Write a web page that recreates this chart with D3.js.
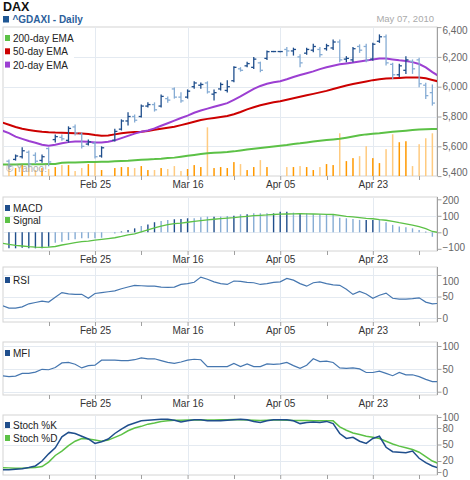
<!DOCTYPE html>
<html><head><meta charset="utf-8">
<script src="https://cdn.jsdelivr.net/npm/d3@7"></script>
<style>
body{margin:0;background:#fff;}
svg{display:block;font-family:Arial,"Liberation Sans",Helvetica,sans-serif;}
</style></head><body>
<svg id="c" width="470" height="480"></svg>
<script>
// ---- categories / ticks (trading-day index) ----
const majorTicks = [13, 27, 41, 55];
const majorLabels = ["Feb 25", "Mar 16", "Apr 05", "Apr 23"];
const minorTicks = [6, 20, 34, 48, 62];
const priceTicks = [5400, 5600, 5800, 6000, 6200, 6400];
const macdTicks = [-100, 0, 100, 200];
const rsiTicks = [0, 50, 100];
const mfiTicks = [0, 50, 100];
const stochTicks = [0, 20, 50, 80, 100];

// ---- OHLC, bars at index 0..64 (null = no bar) ----
const open  = [5500,5512,5530,5560,5540,5505,5585,5645,5660,5640,5730,5680,5615,5620,5535,null,5640,5715,5770,5800,5800,5870,5880,5870,5920,5985,5930,5930,6000,6010,6025,5950,5985,5975,6040,6120,6140,6130,6160,6190,6236,6236,6250,6240,6200,6225,6245,6250,6255,6260,6300,6185,6180,6270,6270,6185,6305,6335,6150,6080,6110,6170,6180,6010,5960];
const high  = [5508,5541,5589,5568,5555,5541,5589,5676,5676,5730,5743,5690,5642,5629,5596,null,5714,5777,5824,5810,5877,5891,5891,5944,5931,5991,5958,5978,6032,6025,6032,5978,6025,6040,6134,6127,6164,6195,6164,6239,6236,6236,6262,6258,6213,6258,6284,6262,6284,6313,6313,6201,6262,6280,6284,6291,6347,6347,6157,6150,6201,6179,6190,6023,6011];
const low   = [5454,5508,5522,5461,5488,5494,5470,5629,5642,5629,5676,5589,5609,5522,5528,null,5636,5710,5743,5763,5797,5864,5837,5864,5897,5924,5897,5924,5991,5991,5958,5911,5978,5965,6034,6105,6134,6123,6101,6184,6236,6236,6208,6213,6134,6218,6235,6201,6246,6250,6168,6168,6168,6231,6168,6179,6298,6146,6056,6067,6090,6090,6000,5922,5877];
const close = [5465,5535,5570,5480,5500,5530,5495,5665,5650,5720,5690,5600,5630,5530,5590,null,5700,5770,5800,5775,5870,5880,5845,5935,5910,5930,5905,5970,6025,6015,5965,5960,6015,6000,6130,6110,6155,6185,6110,6235,6236,6236,6240,6250,6160,6250,6270,6215,6275,6300,6180,6190,6255,6245,6180,6285,6335,6160,6080,6140,6180,6120,6020,5940,5890];
const volume = [44,32,44,32,24,32,28,36,44,44,20,32,48,52,24,0,32,36,36,32,40,24,24,32,28,40,20,28,44,36,196,32,36,32,56,48,24,36,64,36,0,0,36,36,40,36,24,36,48,44,172,60,72,80,120,72,52,108,168,136,140,40,128,152,172];

// ---- lines, values at index -1..65 ----
const ema200 = [5478,5478,5478,5479,5479,5480,5480,5481,5481,5490,5491,5492,5493,5494,5495,5496,5497,5499,5501,5503,5506,5509,5512,5514,5517,5521,5524,5530,5536,5542,5548,5553,5556,5559,5561,5566,5572,5578,5584,5589,5594,5599,5604,5609,5615,5620,5626,5632,5638,5642,5646,5650,5658,5666,5674,5680,5684,5688,5693,5697,5701,5705,5709,5712,5715,5716,5717];
const ema50 = [5760,5745,5730,5718,5710,5703,5697,5694,5692,5691,5690,5688,5686,5683,5676,5671,5673,5680,5688,5693,5696,5698,5703,5711,5718,5725,5731,5742,5753,5765,5776,5784,5790,5797,5804,5815,5830,5848,5862,5875,5886,5895,5902,5912,5922,5932,5942,5952,5962,5972,5985,5996,6008,6018,6027,6035,6044,6050,6055,6057,6059,6061,6062,6061,6056,6045,6034];
const ema20 = [5705,5688,5665,5650,5636,5624,5610,5603,5610,5620,5628,5632,5632,5630,5626,5625,5630,5640,5655,5670,5685,5697,5706,5720,5738,5755,5772,5790,5806,5825,5840,5853,5865,5877,5890,5912,5935,5960,5985,6005,6020,6030,6037,6050,6065,6078,6090,6103,6118,6130,6141,6150,6156,6162,6169,6176,6183,6189,6190,6183,6177,6172,6165,6152,6130,6098,6070];

// MACD histogram index 0..64, signal index -1..65
const macd = [-97,-97,-93,-97,-97,-97,-87,-63,-57,-47,-42,-36,-36,-36,-33,null,-8,5,14,24,38,48,61,68,75,79,81,85,85,91,95,95,95,99,101,109,109,115,115,115,115,125,125,119,115,115,109,109,109,105,88,85,81,75,75,75,75,61,45,35,31,24,14,4,-27];
const macdShade = ["d","d","d","d","d","d","d","l","l","l","l","l","l","l","l","-","l","d","d","d","l","d","d","l","l","d","d","d","l","l","l","d","l","l","d","l","d","l","l","l","d","d","d","l","d","l","l","l","l","l","l","l","l","l","d","d","l","l","l","l","l","l","l","d","l"];
const signal = [-66,-73,-79,-83,-87,-90,-91,-90,-86,-77,-70,-63,-57,-53,-48,-43,-38,-33,-25,-16,-9,3,15,27,38,47,52,56,61,66,71,75,79,83,86,89,93,97,101,103,105,108,110,111,112,113,112,111,110,109,108,103,97,93,89,85,82,77,73,66,58,51,43,35,22,5,-2];

const rsi = [29,23,23,26,33,36,39,37,48,59,56,55,55,46,57,59,61,63,68,72,76,75,74,74,72,71,72,78,80,83,95,90,84,80,78,86,85,83,82,78,80,83,84,92,88,80,74,82,84,80,77,76,67,55,62,56,46,53,58,46,44,44,45,47,37,33,34];
const mfi = [35,33,34,40,40,43,49,48,53,63,64,60,52,57,58,69,69,69,68,68,70,74,72,72,68,64,62,65,69,71,70,55,55,55,55,62,55,61,55,55,61,60,61,64,57,51,58,72,66,67,64,52,51,52,50,42,42,45,40,35,42,37,37,33,27,22,22];
const stochK = [4,4,5,6,8,11,20,33,44,64,72,70,65,60,52,55,60,70,78,85,89,93,94,95,96,96,94,91,93,95,95,93,93,93,94,95,96,95,92,90,93,95,95,95,93,88,90,91,90,92,88,70,61,63,56,52,61,65,45,37,36,35,38,25,17,11,7];
const stochD = [8,7.5,7,6.8,7.5,8,10,18,30,38,48,56,61,60,58,56,58,63,68,75,80,83,87,89,92,93,94,94,94.5,94.5,94.5,94.5,94.5,95,95,95.5,95,94.5,94,93.5,94,94.5,94.5,94,93.5,93.5,93.5,93,93,93,93,82,76,71,68,65,63,61,56,51,47,44,41,36,28,20,15];

// ---- styles ----
const C = {
  dark:"#1f4e8c", light:"#86acd4", red:"#cc0000", purple:"#9c3fd2", green:"#5cc146",
  volDark:"#ff9900", volLight:"#ffcb80", grid:"#e4eaf1", frame:"#d4d4d4", axis:"#a0a0a0",
  axisText:"#666", xText:"#333"
};

const svg = d3.select("#c");
const PL = 3, PR = 437;
const x = d3.scaleLinear().domain([-0.9, 64.7]).range([PL, PR]);
const barIdx = d3.range(0, 65);
const lineIdx = d3.range(-1, 66);

const panels = {
  main:  {top:27,  bottom:176},
  macd:  {top:197, bottom:251},
  rsi:   {top:267, bottom:322},
  mfi:   {top:342, bottom:395},
  stoch: {top:415, bottom:475}
};

const yPrice = d3.scaleLinear().domain([5400, 6400]).range([176.1, 27.1]);
const yVol   = d3.scaleLinear().domain([0, 600]).range([176, 27]);
const yMacd  = d3.scaleLinear().domain([-100, 200]).range([248.8, 199.3]);
const yRsi   = d3.scaleLinear().domain([0, 100]).range([318, 275]);
const yMfi   = d3.scaleLinear().domain([0, 100]).range([391.7, 346]);
const yStoch = d3.scaleLinear().domain([0, 100]).range([472, 417]);

const defs = svg.append("defs");
function clip(name, p){
  defs.append("clipPath").attr("id","clip-"+name)
    .append("rect").attr("x",PL).attr("y",p.top).attr("width",PR-PL).attr("height",p.bottom-p.top);
  return "url(#clip-"+name+")";
}

function drawPanel(name, yScale, ticks, fmt, nudge, gridVals, showXLabels){
  const p = panels[name];
  const g = svg.append("g");
  g.append("rect").attr("x",PL).attr("y",p.top).attr("width",PR-PL).attr("height",p.bottom-p.top)
    .attr("fill","#fff").attr("stroke",C.frame).attr("stroke-width",1);
  g.selectAll(".hg").data(gridVals).join("line")
    .attr("x1",PL).attr("x2",PR).attr("y1",d=>Math.round(yScale(d))+0.5).attr("y2",d=>Math.round(yScale(d))+0.5)
    .attr("stroke",C.grid).attr("stroke-width",1);
  g.selectAll(".vg").data(majorTicks).join("line")
    .attr("x1",d=>Math.round(x(d))+0.5).attr("x2",d=>Math.round(x(d))+0.5).attr("y1",p.top).attr("y2",p.bottom)
    .attr("stroke",C.grid).attr("stroke-width",1);
  const ax = d3.axisRight(yScale).tickValues(ticks).tickFormat(fmt).tickSize(4).tickSizeOuter(0).tickPadding(1);
  const ag = svg.append("g").attr("transform",`translate(${PR+0.5},0)`).call(ax);
  ag.select(".domain").attr("stroke",C.axis).attr("d",`M0,${p.top}V${p.bottom}`);
  ag.selectAll(".tick line").attr("stroke",C.axis);
  ag.selectAll(".tick text").attr("fill",C.axisText).attr("font-size",10)
    .attr("font-family","Arial, 'Liberation Sans', sans-serif")
    .attr("dy",d=> (0.32*10 + (nudge[d]||0)) + "px");
  const xa = d3.axisBottom(x).tickValues(majorTicks).tickFormat((d,i)=>showXLabels?majorLabels[i]:"").tickSize(4).tickSizeOuter(0).tickPadding(1);
  const xg = svg.append("g").attr("transform",`translate(0,${p.bottom})`).call(xa);
  xg.select(".domain").remove();
  xg.selectAll(".tick line").attr("stroke",C.axis);
  xg.selectAll(".tick text").attr("fill",C.xText).attr("font-size",10)
    .attr("font-family","Arial, 'Liberation Sans', sans-serif");
  svg.append("g").selectAll("line").data(minorTicks).join("line")
    .attr("x1",d=>Math.round(x(d))+0.5).attr("x2",d=>Math.round(x(d))+0.5)
    .attr("y1",p.bottom).attr("y2",p.bottom+4).attr("stroke",C.axis);
  return g;
}

function legend(items, x0, y0, step){
  const g = svg.append("g");
  items.forEach((it,k)=>{
    const yy = y0 + k*step;
    g.append("rect").attr("x",x0).attr("y",yy-7).attr("width",5).attr("height",6).attr("fill",it.color);
    g.append("text").attr("x",x0+8).attr("y",yy).attr("font-size",10).attr("fill","#222").text(it.label);
  });
  return g;
}

// ---- header ----
svg.append("text").attr("x",3).attr("y",11).attr("font-size",12.5).attr("font-weight","bold").attr("fill","#111").text("DAX");
svg.append("rect").attr("x",3).attr("y",16).attr("width",6).attr("height",6.5).attr("fill","#1f5794");
svg.append("text").attr("x",12.5).attr("y",22.5).attr("font-size",10).attr("font-weight","bold").attr("fill","#2c5f9c").text("^GDAXI - Daily");
svg.append("text").attr("x",434).attr("y",22).attr("text-anchor","end").attr("font-size",9.5).attr("fill","#aaa").text("May 07, 2010");

const fmtPrice = d3.format(",");
const fmtInt = d3.format("d");

// ---- main panel ----
drawPanel("main", yPrice, priceTicks, fmtPrice, {6400:3, 5400:-4}, priceTicks.slice(1,-1), true);
const mg = svg.append("g").attr("clip-path", clip("main", panels.main));
mg.selectAll(".vol").data(barIdx.filter(i=>volume[i]>0)).join("rect")
  .attr("x",i=>x(i)-0.75).attr("width",1.5)
  .attr("y",i=>yVol(volume[i])).attr("height",i=>yVol(0)-yVol(volume[i]))
  .attr("fill",i=> (close[i]>=open[i]) ? C.volDark : C.volLight);
const emaLine = arr => d3.line().x((d,k)=>x(lineIdx[k])).y(d=>yPrice(d))(arr);
[[ema200,C.green],[ema50,C.red],[ema20,C.purple]].forEach(([arr,col])=>{
  mg.append("path").attr("d",emaLine(arr)).attr("fill","none").attr("stroke",col).attr("stroke-width",2);
});
const bars = mg.selectAll(".ohlc").data(barIdx.filter(i=>close[i]!=null)).join("g")
  .attr("stroke",i=> (close[i]>=open[i]) ? C.dark : C.light).attr("stroke-width",1.3);
bars.append("line").attr("x1",i=>x(i)).attr("x2",i=>x(i)).attr("y1",i=>yPrice(high[i])-0.6).attr("y2",i=>yPrice(low[i])+0.6);
bars.append("line").attr("x1",i=>x(i)-2.6).attr("x2",i=>x(i)).attr("y1",i=>yPrice(open[i])).attr("y2",i=>yPrice(open[i]));
bars.append("line").attr("x1",i=>x(i)).attr("x2",i=>x(i)+2.6).attr("y1",i=>yPrice(close[i])).attr("y2",i=>yPrice(close[i]));
svg.append("text").attr("x",6).attr("y",172).attr("font-size",10).attr("fill","#9a9a9a").attr("opacity",0.8).text("\u00a9 Yahoo!");
svg.append("rect").attr("x",4).attr("y",31).attr("width",70).attr("height",40).attr("fill","#fff");
legend([{label:"200-day EMA",color:C.green},{label:"50-day EMA",color:C.red},{label:"20-day EMA",color:C.purple}], 5, 42, 13.3);

// ---- MACD ----
drawPanel("macd", yMacd, macdTicks, fmtInt, {200:0.5, "-100":-2}, [0,100], true);
const cg = svg.append("g").attr("clip-path", clip("macd", panels.macd));
cg.selectAll(".mb").data(barIdx.filter(i=>macd[i]!=null)).join("line")
  .attr("x1",i=>x(i)).attr("x2",i=>x(i)).attr("y1",yMacd(0)).attr("y2",i=>yMacd(macd[i]))
  .attr("stroke",i=> macdShade[i]==="d" ? C.dark : C.light).attr("stroke-width",1.4);
cg.append("path").attr("d", d3.line().x((d,k)=>x(lineIdx[k])).y(d=>yMacd(d))(signal))
  .attr("fill","none").attr("stroke",C.green).attr("stroke-width",1.3);
legend([{label:"MACD",color:C.dark},{label:"Signal",color:C.green}], 5, 212, 12);

// ---- RSI ----
drawPanel("rsi", yRsi, rsiTicks, fmtInt, {100:6}, [0,50,100], true);
const rg = svg.append("g").attr("clip-path", clip("rsi", panels.rsi));
rg.append("path").attr("d", d3.line().x((d,k)=>x(lineIdx[k])).y(d=>yRsi(d))(rsi))
  .attr("fill","none").attr("stroke","#4677b0").attr("stroke-width",1.2);
legend([{label:"RSI",color:C.dark}], 5, 284, 12);

// ---- MFI ----
drawPanel("mfi", yMfi, mfiTicks, fmtInt, {}, [0,50,100], true);
const fg = svg.append("g").attr("clip-path", clip("mfi", panels.mfi));
fg.append("path").attr("d", d3.line().x((d,k)=>x(lineIdx[k])).y(d=>yMfi(d))(mfi))
  .attr("fill","none").attr("stroke","#4677b0").attr("stroke-width",1.2);
legend([{label:"MFI",color:C.dark}], 5, 357, 12);

// ---- Stochastic ----
drawPanel("stoch", yStoch, stochTicks, fmtInt, {20:-0.5, 0:1.5}, [20,50,80], false);
const sg = svg.append("g").attr("clip-path", clip("stoch", panels.stoch));
sg.append("path").attr("d", d3.line().x((d,k)=>x(lineIdx[k])).y(d=>yStoch(d))(stochD))
  .attr("fill","none").attr("stroke",C.green).attr("stroke-width",1.5);
sg.append("path").attr("d", d3.line().x((d,k)=>x(lineIdx[k])).y(d=>yStoch(d))(stochK))
  .attr("fill","none").attr("stroke",C.dark).attr("stroke-width",1.5);
legend([{label:"Stoch %K",color:C.dark},{label:"Stoch %D",color:C.green}], 5, 429, 13);
</script>
</body></html>
